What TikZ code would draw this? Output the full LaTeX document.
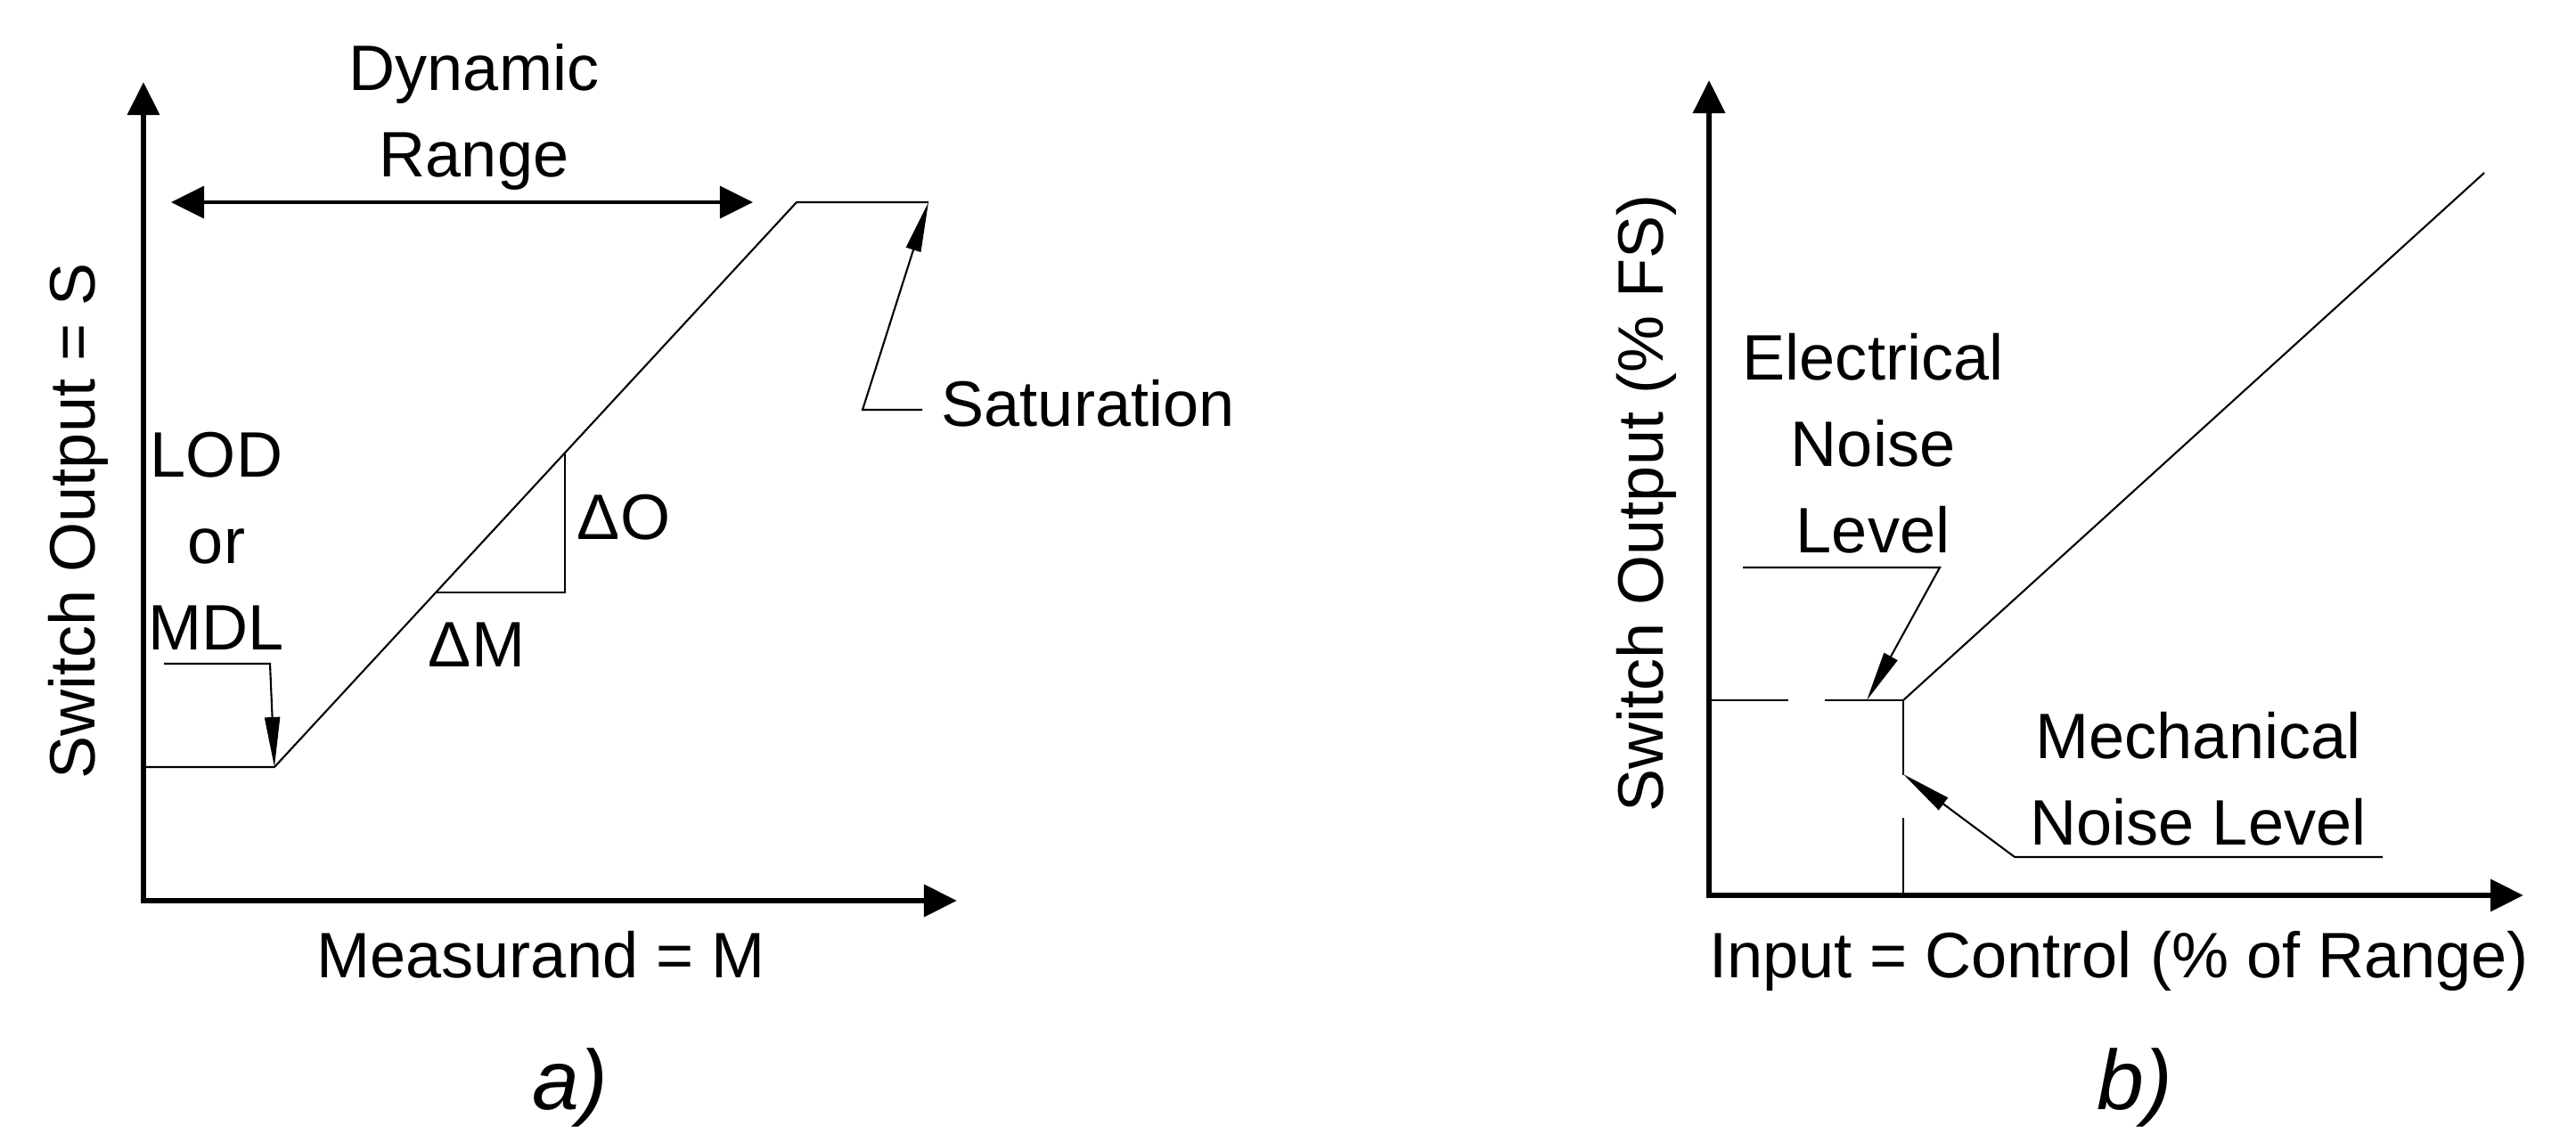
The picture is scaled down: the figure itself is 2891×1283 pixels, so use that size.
\documentclass[tikz,border=0pt]{standalone}
\usepackage{fontspec}
\setmainfont{Liberation Sans}
\usetikzlibrary{arrows.meta,calc}

\tikzset{
  axes/.style={line width=1.8pt,{Triangle[length=0.37cm,width=0.35cm]}-{Triangle[length=0.37cm,width=0.35cm]}},
  curve/.style={line width=0.6pt},
  leader/.style={line width=0.6pt,-{Triangle[length=0.56cm,width=0.17cm]}},
  span/.style={line width=0.9pt,{Triangle[length=0.37cm,width=0.36cm]}-{Triangle[length=0.37cm,width=0.36cm]}},
  lbl/.style={font=\fontsize{20.5}{27.6}\selectfont,inner sep=0pt},
  tag/.style={font=\fontsize{27}{30}\selectfont\itshape,inner sep=0pt}
}

\begin{document}
\begin{tikzpicture}[x=0.01cm,y=-0.01cm]
  \useasboundingbox (0,0) rectangle (2891,1283);

  % a) measurand
  \coordinate (aO) at (161,1011);
  \coordinate (aY) at (161,92);
  \coordinate (aX) at (1074,1011);
  \draw[axes] (aY) |- (aX);
  \coordinate (a1) at (161,861);
  \coordinate (a2) at (308,861);
  \coordinate (a3) at (894,227);
  \coordinate (a4) at (1042,227);
  \draw[curve] (a1) -- (a2) -- (a3) -- (a4);
  \coordinate (s1) at ($(a2)!0.309!(a3)$);
  \coordinate (s2) at ($(a2)!0.556!(a3)$);
  \draw[curve] (s1) -| (s2);
  \node[lbl,anchor=base] (dO) at (700,606) {ΔO};
  \node[lbl,anchor=base] (dM) at (535,749) {ΔM};

  \coordinate (d1) at (192,227);
  \coordinate (d2) at (845,227);
  \draw[span] (d1) -- (d2);
  \node[lbl,align=center] (range) at (532,131) {Dynamic\\Range};

  \node[lbl,align=center] (lod) at (243,607) {LOD\\or\\MDL};
  \coordinate (m1) at (184,745);
  \coordinate (m2) at (303,745);
  \draw[leader] (m1) -- (m2) -- (a2);

  \node[lbl,anchor=base west] (sat) at (1056,479) {Saturation};
  \coordinate (t1) at (1035,460);
  \coordinate (t2) at (968,460);
  \draw[leader] (t1) -- (t2) -- (a4);

  \node[lbl,anchor=base] (meas) at (607,1097) {Measurand = M};
  \node[lbl,anchor=base,rotate=90] (sout) at (106,585) {Switch Output = S};
  \node[tag,anchor=base] (taga) at (640,1245) {a)};

  % b) switch
  \coordinate (bO) at (1918,1005);
  \coordinate (bY) at (1918,90);
  \coordinate (bX) at (2832,1005);
  \draw[axes] (bY) |- (bX);
  \coordinate (b1) at (1918,786);
  \coordinate (bk) at (2136,786);
  \coordinate (bV) at (bk |- bO);
  \coordinate (bE) at (2788,194);
  \draw[curve,dash pattern=on 25.3pt off 11.7pt on 48.9pt off 13.7pt on 40pt] (b1) -- (bk) -- (bV);
  \draw[curve] (bk) -- (bE);

  \node[lbl,align=center] (elec) at (2102,498) {Electrical\\Noise\\Level};
  \coordinate (e1) at (1956,637);
  \coordinate (e2) at (2177,637);
  \coordinate (et) at (2095,786);
  \draw[leader] (e1) -- (e2) -- (et);

  \node[lbl,align=center] (mech) at (2467,874) {Mechanical\\Noise Level};
  \coordinate (n2) at (2674,962);
  \coordinate (n1) at (2261,962);
  \coordinate (nt) at (2136,869);
  \draw[leader] (n2) -- (n1) -- (nt);

  \node[lbl,anchor=base] (inp) at (2378,1097) {Input = Control (\% of Range)};
  \node[lbl,anchor=base,rotate=90] (sfs) at (1866,565) {Switch Output (\% FS)};
  \node[tag,anchor=base] (tagb) at (2396,1245) {b)};
\end{tikzpicture}
\end{document}
